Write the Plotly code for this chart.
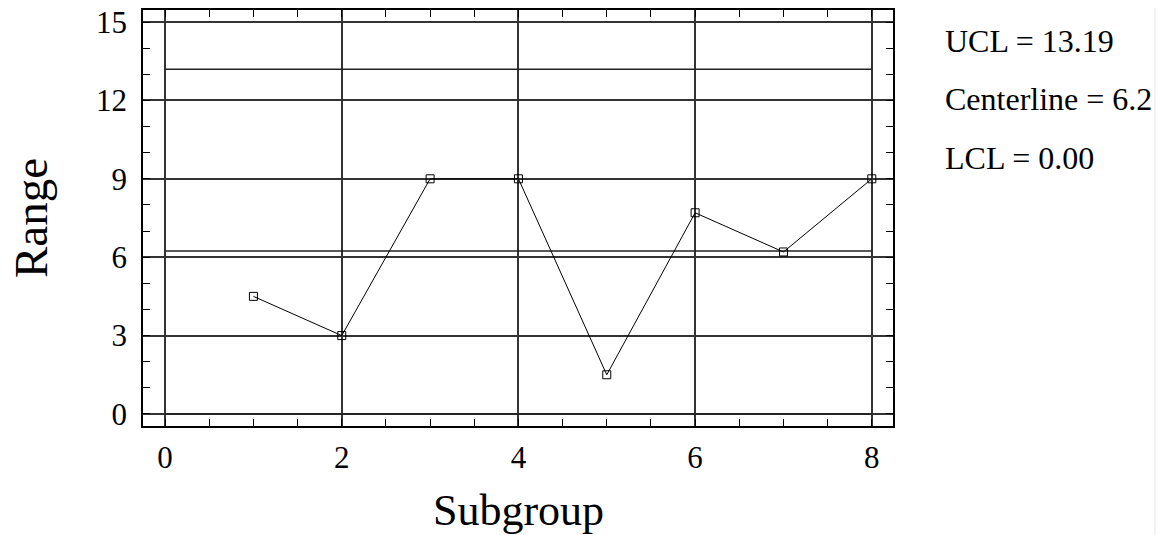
import plotly.graph_objects as go

subgroups = [1, 2, 3, 4, 5, 6, 7, 8]
ranges = [4.5, 3.0, 9.0, 9.0, 1.5, 7.7, 6.2, 9.0]
ucl = 13.19
center = 6.24
lcl = 0.0
limit_x = [0, 8]
labels = ["UCL = 13.19", "Centerline = 6.2", "LCL = 0.00"]

FONT = "Liberation Serif, Times New Roman, serif"

# page body has an 8px margin, so the figure is offset by 8px
OFF = 8
PL, PT, PW, PH = 143, 10, 750, 416   # plot area in window pixels

fig = go.Figure()
for val in [ucl, center, lcl]:
    fig.add_trace(go.Scatter(x=limit_x, y=[val, val], mode="lines",
                             line=dict(color="#222", width=1.5),
                             hoverinfo="skip", showlegend=False))
fig.add_trace(go.Scatter(x=subgroups, y=ranges, mode="lines+markers",
                         line=dict(color="black", width=1),
                         marker=dict(symbol="square-open", size=8, color="black",
                                     line=dict(width=1, color="black")),
                         showlegend=False))

ann_y = [0.925, 0.785, 0.645]
for txt, yy in zip(labels, ann_y):
    fig.add_annotation(text=txt, xref="paper", yref="paper", x=(943 - PL) / PW, y=yy,
                       xanchor="left", yanchor="middle", showarrow=False,
                       font=dict(family=FONT, size=32, color="black"))

# axis titles
fig.add_annotation(text="Subgroup", xref="paper", yref="paper", x=0.5, y=(PT + PH - 510) / PH,
                   xanchor="center", yanchor="middle", showarrow=False, borderpad=0,
                   font=dict(family=FONT, size=44, color="black"))
fig.add_annotation(text="Range", xref="paper", yref="paper", x=(31 - PL) / PW, y=0.5,
                   xanchor="center", yanchor="middle", showarrow=False, textangle=-90,
                   borderpad=0,
                   font=dict(family=FONT, size=47, color="black"))

axis_common = dict(
    showline=True, linecolor="black", linewidth=1.8, mirror="ticks",
    ticks="inside", ticklen=7, tickcolor="black", tickwidth=1.2,
    showgrid=True, gridcolor="#333", gridwidth=1.5,
    zeroline=False, automargin=False, ticklabeloverflow="allow",
    tickfont=dict(family=FONT, size=31, color="black"),
)

fig.update_xaxes(range=[-0.25, 8.24], tickvals=[0, 2, 4, 6, 8],
                 minor=dict(dtick=0.5, tick0=0, ticks="inside", ticklen=7,
                            tickcolor="black", showgrid=False),
                 ticklabelstandoff=3,
                 **axis_common)
fig.update_yaxes(range=[-0.46, 15.46], tickvals=[0, 3, 6, 9, 12, 15],
                 minor=dict(dtick=1, tick0=0, ticks="inside", ticklen=7,
                            tickcolor="black", showgrid=False),
                 ticklabelstandoff=8,
                 **axis_common)

fig.add_shape(type="line", xref="paper", yref="paper",
              x0=(1155 - PL) / PW, x1=(1155 - PL) / PW, y0=-(535 - PT - PH) / PH, y1=1 + PT / PH,
              line=dict(color="#e6e6e6", width=1))

W, H = 1167 - OFF, 535 - OFF
fig.update_layout(width=W, height=H,
                  margin=dict(l=PL - OFF, r=W - (PL - OFF) - PW, t=PT - OFF,
                              b=H - (PT - OFF) - PH, autoexpand=False),
                  plot_bgcolor="white", paper_bgcolor="white")

fig.write_html("out.html")
